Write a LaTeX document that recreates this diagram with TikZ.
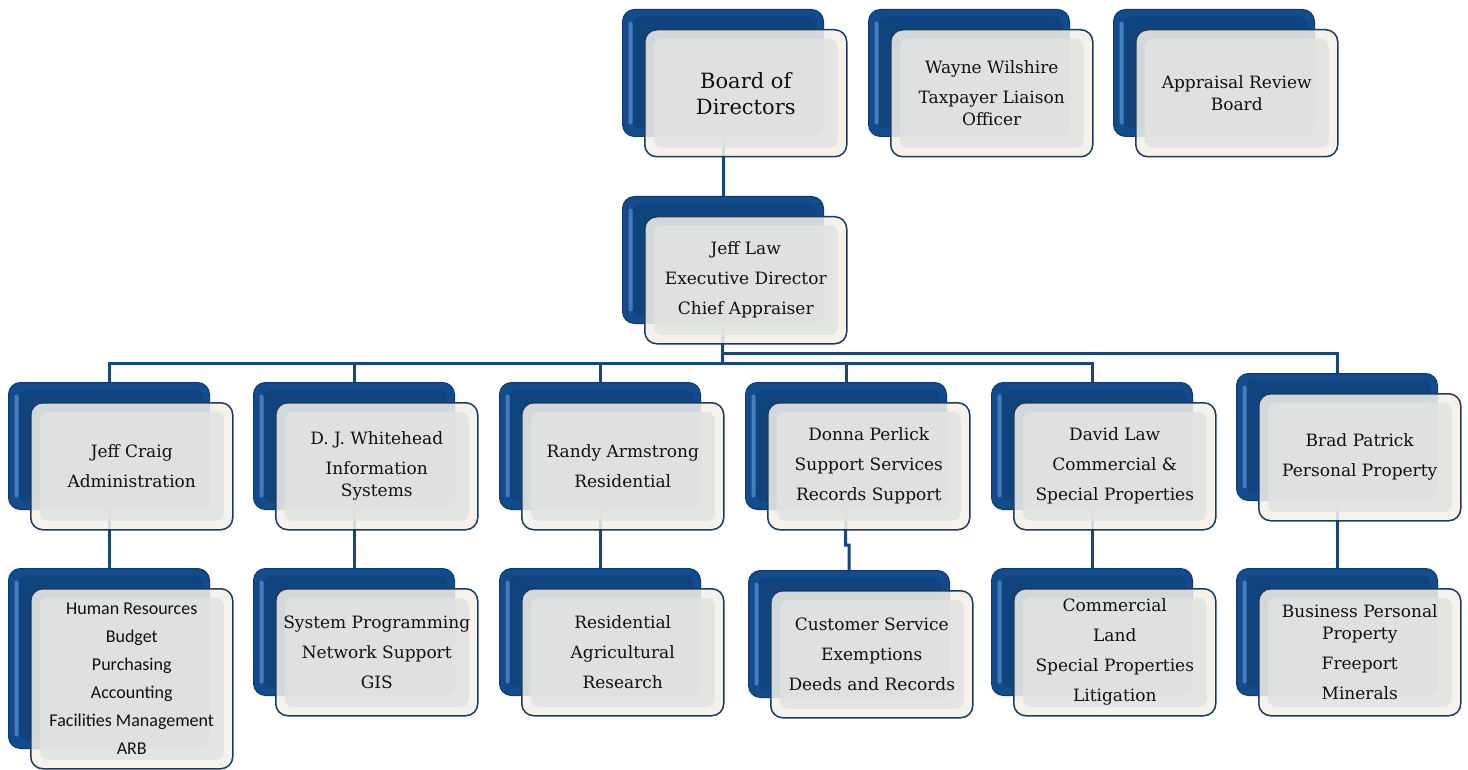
\documentclass[tikz,border=0pt]{standalone}
\usepackage{fontspec}
\setmainfont{DejaVu Serif}
\newfontfamily\calfont{Carlito}
\usetikzlibrary{calc}
\pgfdeclarelayer{bg}
\pgfsetlayers{bg,main}
\definecolor{conncol}{HTML}{1A467A}
\definecolor{backblue}{HTML}{134C8C}
\definecolor{backdark}{HTML}{0C3A6E}
\definecolor{backhi}{HTML}{5A90D2}
\definecolor{frontedge}{HTML}{F3F1E8}
\definecolor{frontmid}{HTML}{E1E3E1}
\definecolor{frontline}{HTML}{1E3A5C}
\definecolor{txt}{HTML}{101010}
\tikzset{
  conn/.style={draw=conncol, line width=3pt},
  backbox/.style={anchor=north west, minimum width=201pt, rounded corners=12pt,
    fill=backblue, draw=backdark, line width=1pt, inner sep=0pt,
    path picture={
      \fill[backdark!45!backblue, rounded corners=8pt]
        ([shift={(10pt,-7pt)}]path picture bounding box.north west) rectangle
        ([shift={(-7pt,8pt)}]path picture bounding box.south east);
      \fill[backhi!70!backblue, rounded corners=2pt]
        ([shift={(6pt,-12pt)}]path picture bounding box.north west) rectangle
        ([shift={(10pt,12pt)}]path picture bounding box.south west);
    }},
  frontbox/.style={anchor=north west, minimum width=202pt, rounded corners=12pt,
    fill=frontedge, fill opacity=0.86, text opacity=1, draw=frontline, draw opacity=1,
    line width=1.5pt, align=center, text=txt, inner sep=0pt,
    font=\fontsize{17}{22}\selectfont,
    path picture={
      \fill[frontmid, rounded corners=8pt]
        ([shift={(9pt,-9pt)}]path picture bounding box.north west) rectangle
        ([shift={(-9pt,9pt)}]path picture bounding box.south east);
    }},
}
\newcommand\orgunit[6][]{%
  \node[backbox, minimum height=#5pt] (b#2) at (#3,#4) {};
  \node[frontbox, minimum height=#5pt, #1] (#2) at (#3+22,#4+20) {#6};
}
\begin{document}
\begin{tikzpicture}[x=1pt,y=-1pt]
\useasboundingbox (0,0) rectangle (1468,770);
% top row
\orgunit[font=\fontsize{21}{26}\selectfont]{board}{622}{9}{127}{Board of\\Directors}
\orgunit{wayne}{868}{9}{127}{Wayne Wilshire\\[8pt]Taxpayer Liaison\\Officer}
\orgunit{arb}{1113}{9}{127}{Appraisal Review\\Board}
% executive
\orgunit{law}{622}{196}{127}{Jeff Law\\[8pt]Executive Director\\[8pt]Chief Appraiser}
% second row
\orgunit{craig}{8}{382}{127}{Jeff Craig\\[8pt]Administration}
\orgunit{dj}{253}{382}{127}{D. J. Whitehead\\[8pt]Information\\Systems}
\orgunit{randy}{499}{382}{127}{Randy Armstrong\\[8pt]Residential}
\orgunit{donna}{745}{382}{127}{Donna Perlick\\[8pt]Support Services\\[8pt]Records Support}
\orgunit{david}{991}{382}{127}{David Law\\[8pt]Commercial \&\\[8pt]Special Properties}
\orgunit{brad}{1236}{373}{127}{Brad Patrick\\[8pt]Personal Property}
% third row
\orgunit[font=\calfont\fontsize{18}{28}\selectfont]{hr}{8}{568}{180}{Human Resources\\Budget\\Purchasing\\Accounting\\Facilities Management\\ARB}
\orgunit{sys}{253}{568}{127}{System Programming\\[8pt]Network Support\\[8pt]GIS}
\orgunit{res}{499}{568}{127}{Residential\\[8pt]Agricultural\\[8pt]Research}
\orgunit{cs}{748}{570}{127}{Customer Service\\[8pt]Exemptions\\[8pt]Deeds and Records}
\orgunit{comm}{991}{568}{127}{Commercial\\[8pt]Land\\[8pt]Special Properties\\[8pt]Litigation}
\orgunit{bpp}{1236}{568}{127}{Business Personal\\Property\\[8pt]Freeport\\[8pt]Minerals}
% connectors
\coordinate (busA) at (722.5,363);
\coordinate (busB) at (722.5,353);
\coordinate (jog) at (845.5,545);
\begin{pgfonlayer}{bg}
\fill[white] (0,0) rectangle (1468,770);
\draw[conn] (bboard.south) -- (blaw.north);
\draw[conn] (blaw.south) -- (busA);
\draw[conn] (busA) -| (bcraig.north);
\draw[conn] (busA) -| (bdj.north);
\draw[conn] (busA) -| (brandy.north);
\draw[conn] (busA) -| (bdonna.north);
\draw[conn] (busA) -| (bdavid.north);
\draw[conn] (busB) -| (bbrad.north);
\draw[conn] (bcraig.south) -- (bhr.north);
\draw[conn] (bdj.south) -- (bsys.north);
\draw[conn] (brandy.south) -- (bres.north);
\draw[conn] (bdonna.south) -- (jog) -| (bcs.north);
\draw[conn] (bdavid.south) -- (bcomm.north);
\draw[conn] (bbrad.south) -- (bbpp.north);
\end{pgfonlayer}
\end{tikzpicture}
\end{document}
